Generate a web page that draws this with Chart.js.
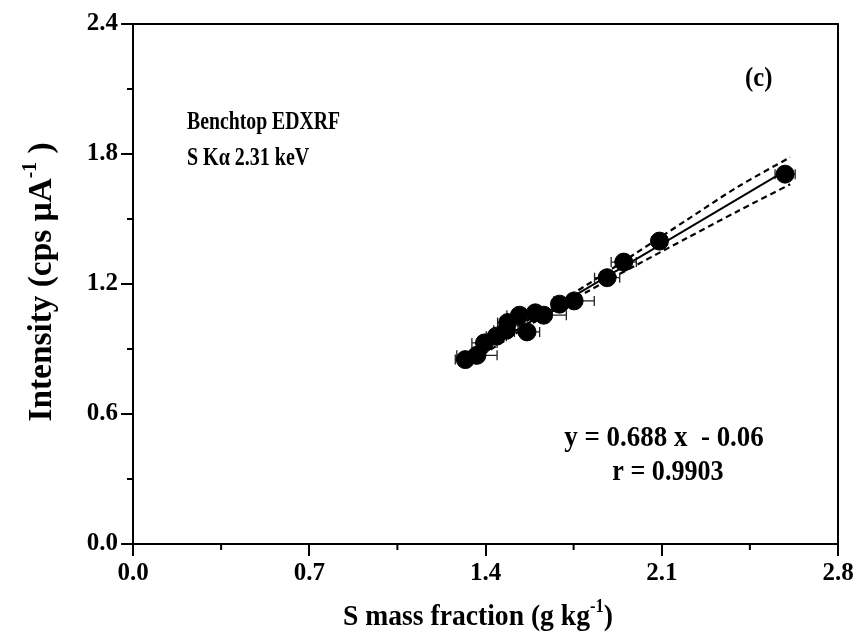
<!DOCTYPE html>
<html>
<head>
<meta charset="utf-8">
<script src="https://cdn.jsdelivr.net/npm/chart.js@4"></script>
<style>
  html, body { margin: 0; padding: 0; background: #fff; }
  #wrap { width: 858px; height: 644px; }
</style>
</head>
<body>
<div id="wrap"><canvas id="chart"></canvas></div>
<script>
// S mass fraction (g/kg) vs intensity (cps/uA)
const massFraction = [1.320, 1.366, 1.396, 1.443, 1.483, 1.488, 1.535, 1.565, 1.598, 1.631, 1.694, 1.752, 1.883, 1.949, 2.091, 2.590];
const intensity    = [0.851, 0.871, 0.928, 0.959, 0.987, 1.022, 1.056, 0.979, 1.067, 1.056, 1.107, 1.122, 1.229, 1.301, 1.398, 1.707];
const massErr      = [0.04, 0.08, 0.05, 0.04, 0.05, 0.04, 0.05, 0.05, 0.04, 0.09, 0.03, 0.08, 0.05, 0.05, 0.03, 0.04];

// regression y = 0.688x - 0.06 and its confidence band
const fitX   = [1.32, 2.59];
const fitY   = [0.848, 1.722];
const bandX  = [1.32, 1.50, 1.65, 1.80, 2.00, 2.20, 2.40, 2.61];
const bandHi = [0.874, 0.988, 1.087, 1.194, 1.344, 1.496, 1.647, 1.785];
const bandLo = [0.822, 0.956, 1.063, 1.162, 1.288, 1.412, 1.535, 1.660];

const xTicks = [0.0, 0.7, 1.4, 2.1, 2.8];
const yTicks = [0.0, 0.6, 1.2, 1.8, 2.4];
const xMinor = [0.35, 1.05, 1.75, 2.45];
const yMinor = [0.3, 0.9, 1.5, 2.1];

const SERIF = '"Liberation Serif", "Times New Roman", serif';

const toXY = (xs, ys) => xs.map((x, i) => ({ x: x, y: ys[i] }));

// text drawn a bit narrower, like the original figure
function condensedText(ctx, text, x, y, size, align, squeeze) {
    ctx.save();
    ctx.font = 'bold ' + size + 'px ' + SERIF;
    ctx.textAlign = align;
    ctx.translate(x, y);
    ctx.scale(squeeze, 1);
    ctx.fillText(text, 0, 0);
    ctx.restore();
}

function drawSup(ctx, main, sup, tail, cx, baseY, size, squeeze) {
    const big = 'bold ' + size + 'px ' + SERIF;
    const small = 'bold ' + Math.round(size * 0.6) + 'px ' + SERIF;
    ctx.save();
    ctx.translate(cx, baseY);
    ctx.scale(squeeze, 1);
    ctx.font = big;
    const w1 = ctx.measureText(main).width;
    const w3 = ctx.measureText(tail).width;
    ctx.font = small;
    const w2 = ctx.measureText(sup).width;
    let x = -(w1 + w2 + w3) / 2;
    ctx.textAlign = 'left';
    ctx.font = big;
    ctx.fillText(main, x, 0);
    x += w1;
    ctx.font = small;
    ctx.fillText(sup, x, -size * 0.45);
    x += w2;
    ctx.font = big;
    ctx.fillText(tail, x, 0);
    ctx.restore();
}

// frame, minor ticks, error bars and labels
const extrasPlugin = {
    id: 'extras',
    beforeDatasetsDraw(chart) {
        const ctx = chart.ctx;
        const xs = chart.scales.x, ys = chart.scales.y;
        ctx.save();
        ctx.strokeStyle = '#222';
        ctx.lineWidth = 1.3;
        massFraction.forEach((m, i) => {
            const y = ys.getPixelForValue(intensity[i]);
            const x0 = xs.getPixelForValue(m - massErr[i]);
            const x1 = xs.getPixelForValue(m + massErr[i]);
            ctx.beginPath();
            ctx.moveTo(x0, y); ctx.lineTo(x1, y);
            ctx.moveTo(x0, y - 5); ctx.lineTo(x0, y + 5);
            ctx.moveTo(x1, y - 5); ctx.lineTo(x1, y + 5);
            ctx.stroke();
        });
        ctx.restore();
    },
    afterDraw(chart) {
        const ctx = chart.ctx;
        const a = chart.chartArea;
        const xs = chart.scales.x, ys = chart.scales.y;
        ctx.save();
        ctx.strokeStyle = '#000';
        ctx.lineWidth = 2;
        ctx.beginPath();
        ctx.moveTo(a.left, a.top); ctx.lineTo(a.right, a.top); ctx.lineTo(a.right, a.bottom);
        xMinor.forEach(v => {
            const px = xs.getPixelForValue(v);
            ctx.moveTo(px, a.bottom); ctx.lineTo(px, a.bottom + 6);
        });
        yMinor.forEach(v => {
            const py = ys.getPixelForValue(v);
            ctx.moveTo(a.left, py); ctx.lineTo(a.left - 6, py);
        });
        ctx.stroke();

        ctx.fillStyle = '#000';
        ctx.textBaseline = 'alphabetic';
        condensedText(ctx, 'Benchtop EDXRF', 187, 129, 25, 'left', 0.79);
        condensedText(ctx, 'S K\u03B1 2.31 keV', 187, 165, 25, 'left', 0.8);
        condensedText(ctx, '(c)', 745, 86, 28, 'left', 0.88);
        condensedText(ctx, 'y = 0.688 x  - 0.06', 664, 446, 29, 'center', 0.93);
        condensedText(ctx, 'r = 0.9903', 668, 480, 29, 'center', 0.9);

        drawSup(ctx, 'S mass fraction (g kg', '-1', ')', 478, 625, 30, 0.92);
        ctx.save();
        ctx.translate(51, 282);
        ctx.rotate(-Math.PI / 2);
        drawSup(ctx, 'Intensity (cps \u00B5A', '-1', ' )', 0, 0, 34, 0.98);
        ctx.restore();
        ctx.restore();
    }
};

const tickFont = { family: SERIF, size: 25, weight: 'bold' };

new Chart(document.getElementById('chart'), {
    type: 'scatter',
    data: {
        datasets: [
            {
                label: 'Samples',
                data: toXY(massFraction, intensity),
                backgroundColor: '#000',
                borderColor: '#000',
                pointRadius: 9,
                pointHoverRadius: 9,
                order: 0
            },
            {
                label: 'Fit',
                data: toXY(fitX, fitY),
                showLine: true,
                borderColor: '#000',
                borderWidth: 2,
                pointRadius: 0,
                order: 1
            },
            {
                label: 'Upper 95%',
                data: toXY(bandX, bandHi),
                showLine: true,
                borderColor: '#000',
                borderWidth: 2.2,
                borderDash: [6, 4],
                pointRadius: 0,
                tension: 0.3,
                order: 2
            },
            {
                label: 'Lower 95%',
                data: toXY(bandX, bandLo),
                showLine: true,
                borderColor: '#000',
                borderWidth: 2.2,
                borderDash: [6, 4],
                pointRadius: 0,
                tension: 0.3,
                order: 2
            }
        ]
    },
    options: {
        responsive: true,
        maintainAspectRatio: false,
        animation: false,
        layout: { padding: { top: 24, right: 20, left: 0, bottom: 0 } },
        plugins: {
            legend: { display: false },
            tooltip: { enabled: false }
        },
        scales: {
            x: {
                type: 'linear',
                min: 0, max: 2.8,
                afterBuildTicks: s => { s.ticks = xTicks.map(v => ({ value: v })); },
                afterFit: s => { s.height = 100; },
                ticks: {
                    font: tickFont, color: '#000', padding: 3,
                    callback: v => v.toFixed(1)
                },
                grid: { drawOnChartArea: false, tickLength: 12, color: '#000', lineWidth: 2 },
                border: { color: '#000', width: 2 }
            },
            y: {
                type: 'linear',
                min: 0, max: 2.4,
                afterBuildTicks: s => { s.ticks = yTicks.map(v => ({ value: v })); },
                afterFit: s => { s.width = 133; },
                ticks: {
                    font: tickFont, color: '#000', padding: 3,
                    callback: v => v.toFixed(1)
                },
                grid: { drawOnChartArea: false, tickLength: 12, color: '#000', lineWidth: 2 },
                border: { color: '#000', width: 2 }
            }
        }
    },
    plugins: [extrasPlugin]
});
</script>
</body>
</html>
